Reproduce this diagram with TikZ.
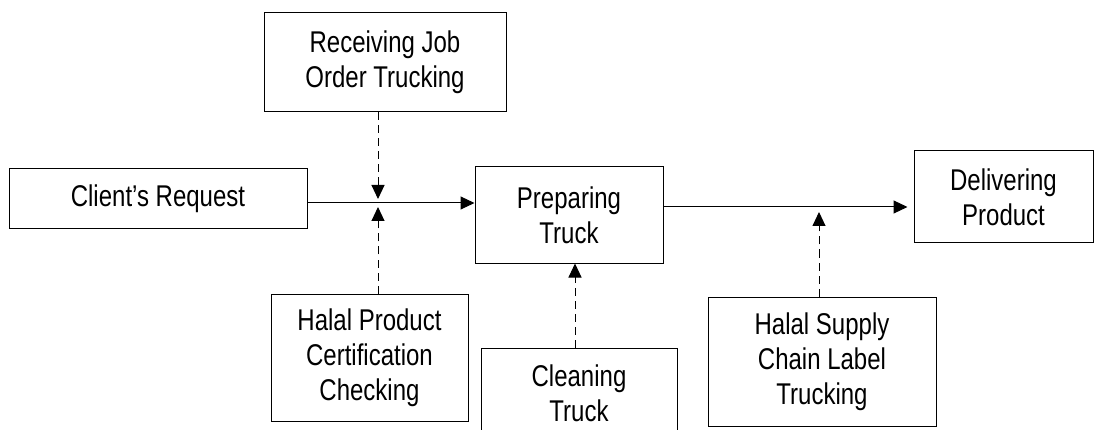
\documentclass[tikz,border=0pt]{standalone}
\usepackage{fontspec}
\setmainfont{Liberation Sans}[FakeStretch=0.8]
\usetikzlibrary{arrows.meta}

\begin{document}
\begin{tikzpicture}[x=1pt, y=-1pt,
    activity/.style ={rectangle, draw, line width=1pt, align=center, inner sep=0pt,
                      font=\fontsize{30}{35}\selectfont},
    flow/.style ={line width=1pt, -{Triangle[length=14pt, width=13pt]}},
    control/.style ={flow, dash pattern=on 8pt off 5pt}]
   \useasboundingbox (0,0) rectangle (1094,430);

   \node[activity, minimum width=298pt, minimum height=60pt]  (request)   at (158,199)    {Client’s Request};
   \node[activity, minimum width=242pt, minimum height=99pt]  (receiving) at (385,62.5)   {Receiving Job\\Order Trucking};
   \node[activity, minimum width=188pt, minimum height=96pt]  (preparing) at (569,215)    {Preparing\\Truck};
   \node[activity, minimum width=179pt, minimum height=92pt]  (delivering) at (1003.5,197) {Delivering\\Product};
   \node[activity, minimum width=197pt, minimum height=127pt] (certif)    at (369.5,357.5) {Halal Product\\Certification\\Checking};
   \node[activity, minimum width=196pt, minimum height=90pt]  (cleaning)  at (579,393)    {Cleaning\\Truck};
   \node[activity, minimum width=228pt, minimum height=129pt] (label)     at (822,361.5)  {Halal Supply\\Chain Label\\Trucking};

   % where the dashed controls meet the flow lines
   \coordinate (jobin)   at (378,199);
   \coordinate (certin)  at (378,207);
   \coordinate (outline) at (819,207);
   \coordinate (labelin) at (819,212);

   \draw[flow] (request.east |- 0,203) to (preparing.west |- 0,203);
   \draw[flow, shorten >=6pt] (preparing.east |- outline) to (delivering.west |- outline);
   \draw[control] (jobin |- receiving.south) to (jobin);
   \draw[control] (certin |- certif.north) to (certin);
   \draw[control] ([xshift=-4pt]cleaning.north) to ([xshift=-4pt]cleaning.north |- preparing.south);
   \draw[control] (labelin |- label.north) to (labelin);
 \end{tikzpicture}
\end{document}
